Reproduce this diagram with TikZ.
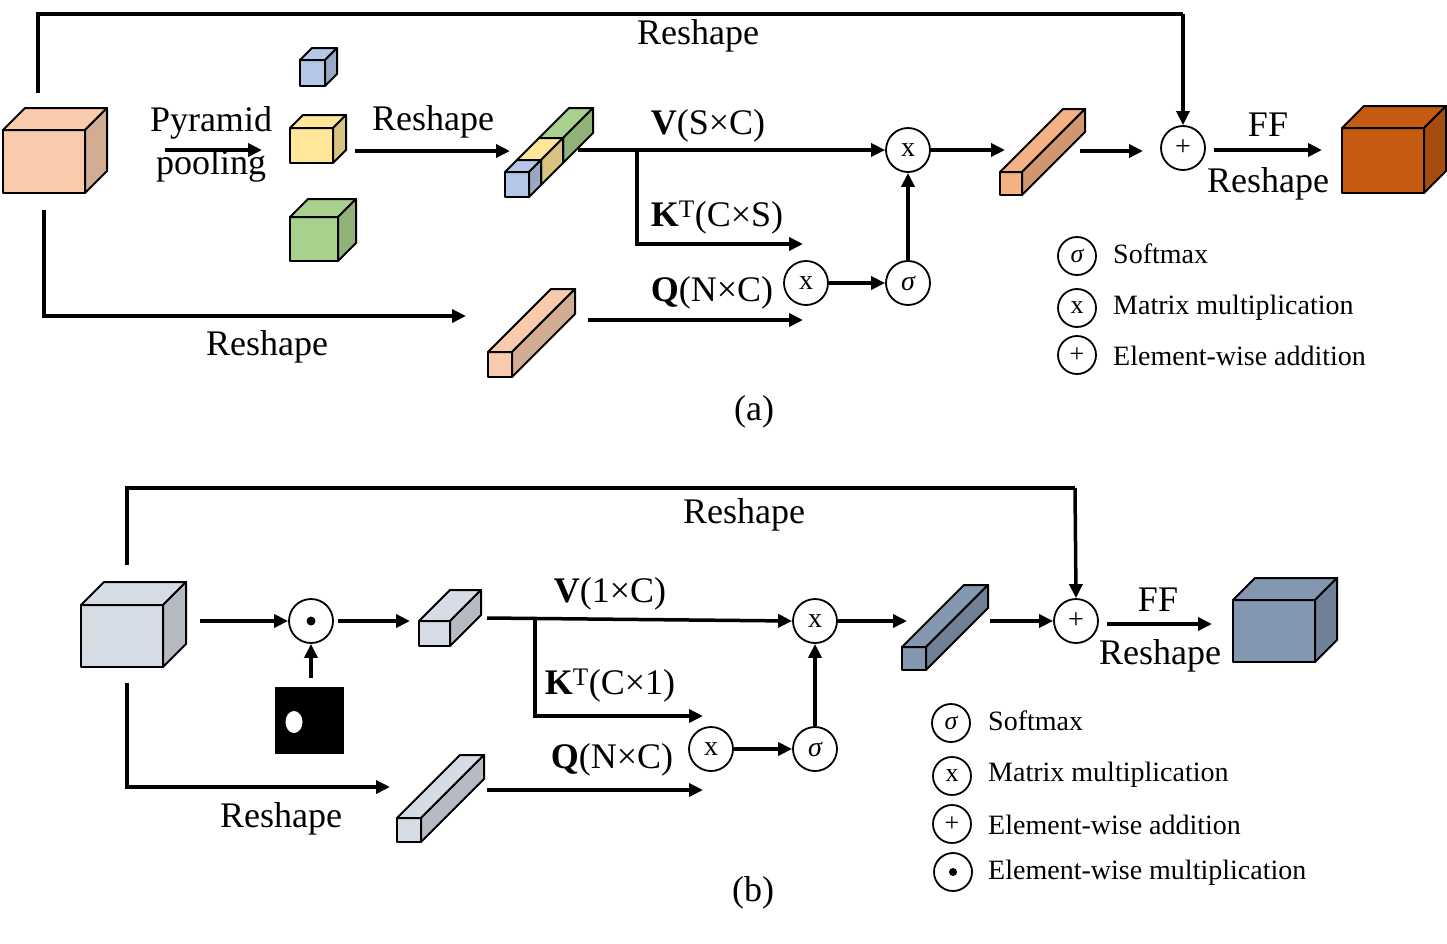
\documentclass[tikz,border=0pt]{standalone}
\usepackage{fontspec}
\setmainfont{Liberation Serif}
\usetikzlibrary{arrows.meta}
\definecolor{peach}{HTML}{F8CBAD}
\definecolor{cblue}{HTML}{B4C7E7}
\definecolor{cyel}{HTML}{FFE699}
\definecolor{cgreen}{HTML}{A9D18E}
\definecolor{corange}{HTML}{F4B183}
\definecolor{dorange}{HTML}{C55A11}
\definecolor{lgray}{HTML}{D6DCE5}
\definecolor{slate}{HTML}{8497B0}
\newcommand\cb[6]{%
 \filldraw[fill=#6,line width=2pt,line join=round] (#1,#2) rectangle ++(#3,#4);
 \filldraw[fill=#6,line width=2pt,line join=round] (#1,#2) -- ++(#5,-#5) -- ++(#3,0) -- ++(-#5,#5) -- cycle;
 \filldraw[fill=#6!85!black,line width=2pt,line join=round] (#1,#2) ++(#3,0) -- ++(#5,-#5) -- ++(0,#4) -- ++(-#5,#5) -- cycle;}
\begin{document}
\begin{tikzpicture}[x=1pt,y=-1pt,
 ln/.style={line width=3.5pt},
 arr/.style={line width=3.5pt,-{Triangle[length=14pt,width=13pt]}},
 op/.style={circle,draw,line width=1.8pt,minimum size=44pt,inner sep=0pt,font=\fontsize{28}{30}\selectfont},
 lg/.style={circle,draw,line width=1.8pt,minimum size=38pt,inner sep=0pt,font=\fontsize{26}{28}\selectfont},
 lab/.style={font=\fontsize{36}{40}\selectfont,inner sep=0pt},
 lt/.style={font=\fontsize{28}{30}\selectfont,anchor=west,inner sep=0pt}]
\useasboundingbox (0,0) rectangle (1447,943);
% ---------- (a) ----------
\cb{3}{130}{82}{63}{22}{peach}
\cb{300}{60}{25}{26}{12}{cblue}
\cb{290}{128}{43}{35}{13}{cyel}
\cb{290}{217}{48}{44}{18}{cgreen}
\cb{539}{138}{24}{25}{30}{cgreen}
\cb{517}{160}{24}{25}{22}{cyel}
\cb{505}{172}{24}{25}{12}{cblue}
\cb{1000}{172}{22}{23}{63}{corange}
\cb{488}{352}{24}{25}{63}{peach}
\cb{1342}{128}{82}{65}{22}{dorange}
\node[op] (xa) at (908,150) {x};
\node[op] (xb) at (806,283) {x};
\node[op] (sa) at (908,283) {\itshape σ};
\node[op] (pa) at (1183,148) {+};
\coordinate (ta) at (38,93);
\draw[ln] (ta) -- (38,14) -- (1183,14) coordinate (tr);
\draw[arr] (tr) -- (pa.north);
\node[lab] at (698,36) {Reshape};
\draw[arr] (165,150) -- (262,150);
\node[lab] at (211,123) {Pyramid};
\node[lab] at (211,166) {pooling};
\draw[arr] (355,151) -- (510,151);
\node[lab] at (433,122) {Reshape};
\coordinate (va) at (578,150);
\draw[arr] (va) -- (xa.west);
\node[lab] at (708,126) {\textbf{V}(S×C)};
\draw[arr] (637,150) -- (637,244) -- (803,244);
\node[lab] at (717,218) {\textbf{K}\textsuperscript{T}(C×S)};
\draw[arr] (588,320) -- (803,320);
\node[lab] at (712,293) {\textbf{Q}(N×C)};
\draw[arr] (xb.east) -- (sa.west);
\draw[arr] (sa.north) -- (xa.south);
\draw[arr] (xa.east) -- (1005,150);
\draw[arr] (1080,151) -- (1143,151);
\draw[arr] (pa.east) ++(8,2) -- (1322,150);
\node[lab] at (1268,125) {FF};
\node[lab] at (1268,184) {Reshape};
\draw[arr] (44,210) -- (44,316) -- (466,316);
\node[lab] at (267,347) {Reshape};
\node[lg] (l1) at (1077,256) {\itshape σ};
\node[lg] (l2) at (1077,308) {x};
\node[lg] (l3) at (1077,355) {+};
\node[lt] at (1113,254) {Softmax};
\node[lt] at (1113,308) {Matrix multiplication};
\node[lt] at (1113,356) {Element-wise addition};
\node[lab] at (754,412) {(a)};
% ---------- (b) ----------
\cb{81}{605}{82}{62}{23}{lgray}
\cb{419}{621}{31}{25}{31}{lgray}
\cb{397}{818}{24}{24}{63}{lgray}
\cb{902}{647}{24}{23}{62}{slate}
\cb{1233}{600}{82}{62}{22}{slate}
\node[op] (od) at (311,621) {};
\fill (od) circle (4.5pt);
\node[op] (xc) at (815,621) {x};
\node[op] (xd) at (711,749) {x};
\node[op] (sb) at (815,749) {\itshape σ};
\node[op] (pb) at (1076,621) {+};
\draw[ln] (127,565) -- (127,488) -- (1075,488) coordinate (tr2);
\draw[arr] (tr2) -- (pb.north);
\node[lab] at (744,515) {Reshape};
\draw[arr] (200,621) -- (od.west);
\draw[arr] (od.east) ++(4,0) -- (410,621);
\fill (275,687) rectangle (344,754);
\fill[white] (294,722) ellipse (8.5pt and 11pt);
\draw[arr] (311,678) -- (od.south);
\draw[arr] (487,618) -- (xc.west);
\node[lab] at (610,594) {\textbf{V}(1×C)};
\draw[arr] (535,618) -- (535,716) -- (703,716);
\node[lab] at (610,686) {\textbf{K}\textsuperscript{T}(C×1)};
\draw[arr] (487,790) -- (703,790);
\node[lab] at (612,760) {\textbf{Q}(N×C)};
\draw[arr] (xd.east) -- (sb.west);
\draw[arr] (sb.north) -- (xc.south);
\draw[arr] (xc.east) -- (907,621);
\draw[arr] (990,621) -- (pb.west);
\draw[arr] (1107,624) -- (1212,624);
\node[lab] at (1158,600) {FF};
\node[lab] at (1160,656) {Reshape};
\draw[arr] (127,683) -- (127,787) -- (390,787);
\node[lab] at (281,819) {Reshape};
\node[lg] at (951,723) {\itshape σ};
\node[lg] at (952,776) {x};
\node[lg] at (952,824) {+};
\node[lg] (l4) at (953,872) {};
\fill (l4) circle (4pt);
\node[lt] at (988,721) {Softmax};
\node[lt] at (988,775) {Matrix multiplication};
\node[lt] at (988,825) {Element-wise addition};
\node[lt] at (988,873) {Element-wise multiplication};
\node[lab] at (753,893) {(b)};
\end{tikzpicture}
\end{document}
